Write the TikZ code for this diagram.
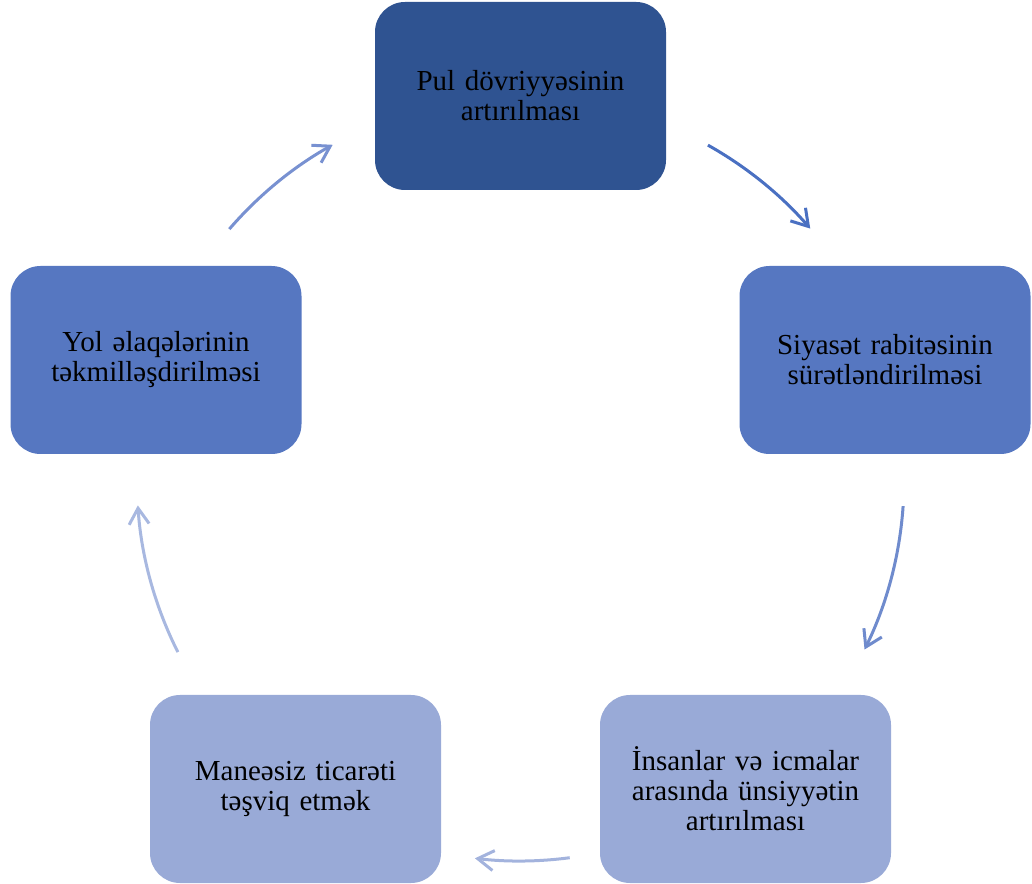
\documentclass[tikz,border=0pt]{standalone}
\usepackage{fontspec}
\setmainfont{Liberation Serif}
\usetikzlibrary{arrows.meta,calc}
\definecolor{cdark}{HTML}{2F5391}
\definecolor{cmid}{HTML}{5677C1}
\definecolor{clight}{HTML}{99AAD7}
\definecolor{aone}{HTML}{4A70C2}
\definecolor{atwo}{HTML}{6F8BCD}
\definecolor{athree}{HTML}{A3B3DD}
\definecolor{afour}{HTML}{A8B8E0}
\definecolor{afive}{HTML}{7891D1}
\tikzset{
  box/.style={rounded corners=30pt, minimum width=291pt, minimum height=188pt,
    inner sep=0pt, align=center, text width=280pt,
    font=\fontsize{29}{30}\selectfont, text=black},
  arr/.style={line width=3pt, -{Straight Barb[length=16pt,width=20pt,line width=3pt]}},
}
\begin{document}
\begin{tikzpicture}[x=1pt,y=1pt]
\useasboundingbox (0,0) rectangle (1032,883);
\node[box, fill=cdark] (top) at (520.5,787) {Pul dövriyyəsinin\\artırılması};
\node[box, fill=cmid] (right) at (885,523) {Siyasət rabitəsinin\\sürətləndirilməsi};
\node[box, fill=clight] (br) at (745.5,94) {İnsanlar və icmalar\\arasında ünsiyyətin\\artırılması};
\node[box, fill=clight] (bl) at (295.5,94) {Maneəsiz ticarəti\\təşviq etmək};
\node[box, fill=cmid] (left) at (156,523) {Yol əlaqələrinin\\təkmilləşdirilməsi};
\coordinate (ctr) at (520,403);
\coordinate (s1) at ($(ctr)+(60.7:384)$);
\coordinate (s2) at ($(ctr)+(-3.9:384)$);
\coordinate (s3) at ($(ctr)+(-82.5:381)$);
\coordinate (s4) at ($(ctr)+(-153.3:383)$);
\coordinate (s5) at ($(ctr)+(139.2:384)$);
\draw[arr, aone] (s1) arc[start angle=60.7, end angle=40.9, radius=384];
\draw[arr, atwo] (s2) arc[start angle=-3.9, end angle=-26.2, radius=384];
\draw[arr, athree] (s3) arc[start angle=-82.5, end angle=-96.8, radius=381];
\draw[arr, afour] (s4) arc[start angle=-153.3, end angle=-176.2, radius=383];
\draw[arr, afive] (s5) arc[start angle=139.2, end angle=119.2, radius=384];
\end{tikzpicture}
\end{document}
